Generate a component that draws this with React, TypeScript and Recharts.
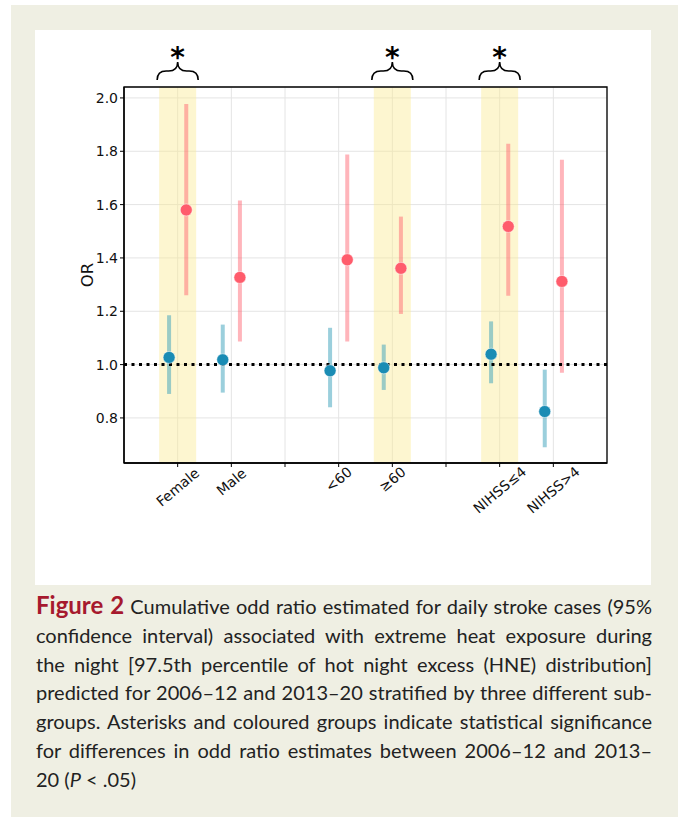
import React from "react";
import {
  ComposedChart,
  Scatter,
  ErrorBar,
  XAxis,
  YAxis,
  CartesianGrid,
  ReferenceArea,
  ReferenceLine,
} from "recharts";

// x positions: subgroup slots, empty strings are the gaps between groups
const tickLabels = ["Female", "Male", "", "<60", "\u226560", "", "NIHSS\u22644", "NIHSS>4"];
const slotIndex = [0, 1, 3, 4, 6, 7];
const significant = [true, false, false, true, true, false];

// 2006–12
const orEarly = [1.027, 1.018, 0.977, 0.988, 1.039, 0.824];
const loEarly = [0.89, 0.895, 0.84, 0.905, 0.93, 0.69];
const hiEarly = [1.185, 1.15, 1.138, 1.075, 1.162, 0.981];

// 2013–20
const orLate = [1.58, 1.327, 1.393, 1.361, 1.518, 1.312];
const loLate = [1.26, 1.087, 1.087, 1.19, 1.258, 0.969];
const hiLate = [1.977, 1.615, 1.788, 1.555, 1.828, 1.768];

const yTicks = [0.8, 1.0, 1.2, 1.4, 1.6, 1.8, 2.0];
const Y_MIN = 0.631;
const Y_MAX = 2.041;
const DODGE = 0.16;
const BAND = 0.345;

const early = slotIndex.map((s, i) => ({
  x: s - DODGE,
  or: orEarly[i],
  err: [orEarly[i] - loEarly[i], hiEarly[i] - orEarly[i]],
}));
const late = slotIndex.map((s, i) => ({
  x: s + DODGE,
  or: orLate[i],
  err: [orLate[i] - loLate[i], hiLate[i] - orLate[i]],
}));

const FONT = "'DejaVu Sans', sans-serif";
const TICK_FS = 14;

const XTick = (props: any) => {
  const { x, y, payload } = props;
  const label = tickLabels[payload.value] ?? "";
  if (!label) return null;
  const len = label.length * 0.6 * TICK_FS;
  const a = (40 * Math.PI) / 180;
  const bh = len * Math.sin(a) + TICK_FS * 0.75 * Math.cos(a);
  const cy = y + bh / 2;
  return (
    <text
      x={x}
      y={cy}
      textAnchor="middle"
      dominantBaseline="central"
      transform={`rotate(-40 ${x} ${cy})`}
      fontSize={TICK_FS}
      fontFamily={FONT}
      fill="#111"
    >
      {label}
    </text>
  );
};

const brace = (props: any) => {
  const vb = props.viewBox;
  if (!vb) return null;
  const x0 = vb.x - 2;
  const x1 = vb.x + vb.width + 2;
  const xm = (x0 + x1) / 2;
  const yb = vb.y - 7;
  const ym = yb - 9;
  const yp = yb - 18;
  const d = `M${x0},${yb} Q${x0},${ym} ${x0 + 9},${ym} L${xm - 9},${ym} Q${xm},${ym} ${xm},${yp} Q${xm},${ym} ${xm + 9},${ym} L${x1 - 9},${ym} Q${x1},${ym} ${x1},${yb}`;
  return (
    <g>
      <path d={d} fill="none" stroke="#000" strokeWidth={1.6} />
      <text
        x={xm}
        y={yp + 5}
        textAnchor="middle"
        fontSize={28}
        fontWeight="bold"
        fontFamily={FONT}
        fill="#000"
      >
        *
      </text>
    </g>
  );
};

const dot = (color: string) => (p: any) =>
  <circle cx={p.cx} cy={p.cy} r={6} fill={color} stroke="#fff" strokeWidth={0.5} />;

const captionLines = [
  "confidence interval) associated with extreme heat exposure during",
  "the night [97.5th percentile of hot night excess (HNE) distribution]",
  "predicted for 2006\u201312 and 2013\u201320 stratified by three different sub-",
  "groups. Asterisks and coloured groups indicate statistical significance",
  "for differences in odd ratio estimates between 2006\u201312 and 2013\u2013",
];

export default function App() {
  const lineStyle: React.CSSProperties = {
    textAlign: "justify",
    textAlignLast: "justify",
    whiteSpace: "nowrap",
  };
  return (
    <div style={{ position: "absolute", left: 0, top: 0, width: 678, height: 817, background: "#fff" }}>
      <div style={{ position: "absolute", left: 11, top: 5, width: 667, height: 812, background: "#efefe3" }} />
      <div style={{ position: "absolute", left: 35, top: 30, width: 616, height: 555, background: "#fff" }}>
        <ComposedChart width={616} height={555} margin={{ top: 57, right: 44, left: 0, bottom: 0 }}>
          <CartesianGrid stroke="#e4e4e4" strokeWidth={1} />
          {slotIndex.map((s, i) =>
            significant[i] ? (
              <ReferenceArea
                key={s}
                x1={s - BAND}
                x2={s + BAND}
                fill="#fbe98f"
                fillOpacity={0.42}
                stroke="none"
                label={brace}
              />
            ) : null
          )}
          <XAxis
            type="number"
            dataKey="x"
            domain={[-1, 8]}
            ticks={[0, 1, 2, 3, 4, 5, 6, 7]}
            allowDataOverflow
            height={122}
            tick={<XTick />}
            tickSize={4}
            tickMargin={0}
            interval={0}
            axisLine={{ stroke: "#000", strokeWidth: 1.3 }}
            tickLine={{ stroke: "#000" }}
          />
          <YAxis
            type="number"
            dataKey="or"
            domain={[Y_MIN, Y_MAX]}
            ticks={yTicks}
            allowDataOverflow
            width={89}
            tickFormatter={(v: number) => v.toFixed(1)}
            tick={{ fontSize: TICK_FS, fontFamily: FONT, fill: "#111" }}
            tickSize={4}
            tickMargin={2}
            axisLine={{ stroke: "#000", strokeWidth: 1.3 }}
            tickLine={{ stroke: "#000" }}
            label={{
              content: (p: any) => {
                const vb = p.viewBox;
                const cx = vb.x + 52;
                const cy = vb.y + vb.height / 2;
                return (
                  <text
                    x={cx}
                    y={cy}
                    textAnchor="middle"
                    dominantBaseline="central"
                    transform={`rotate(-90 ${cx} ${cy})`}
                    fontSize={16.5}
                    fontFamily={FONT}
                    fill="#111"
                  >
                    OR
                  </text>
                );
              },
            }}
          />
          <ReferenceArea x1={-1} x2={8} y1={Y_MIN} y2={Y_MAX} fill="none" stroke="#000" strokeWidth={1.3} />
          <Scatter data={early} shape={dot("#1a8cb4")} isAnimationActive={false}>
            <ErrorBar dataKey="err" direction="y" width={0} stroke="rgba(55,160,185,0.5)" strokeWidth={4} />
          </Scatter>
          <Scatter data={late} shape={dot("#ff5c6c")} isAnimationActive={false}>
            <ErrorBar dataKey="err" direction="y" width={0} stroke="rgba(255,90,105,0.45)" strokeWidth={4} />
          </Scatter>
          <ReferenceLine y={1} stroke="#000" strokeWidth={3} strokeDasharray="3 4.5" />
        </ComposedChart>
      </div>
      <div
        style={{
          position: "absolute",
          left: 36,
          top: 591,
          width: 616,
          fontFamily: "Lato, sans-serif",
          fontSize: 20,
          lineHeight: "28.8px",
          color: "#222",
        }}
      >
        <div style={lineStyle}>
          <span style={{ fontWeight: "bold", fontSize: 24, color: "#a6192e" }}>Figure 2</span> Cumulative odd ratio
          estimated for daily stroke cases (95%
        </div>
        {captionLines.map((l) => (
          <div key={l} style={lineStyle}>
            {l}
          </div>
        ))}
        <div>
          20 (<i>P</i> &lt; .05)
        </div>
      </div>
    </div>
  );
}
